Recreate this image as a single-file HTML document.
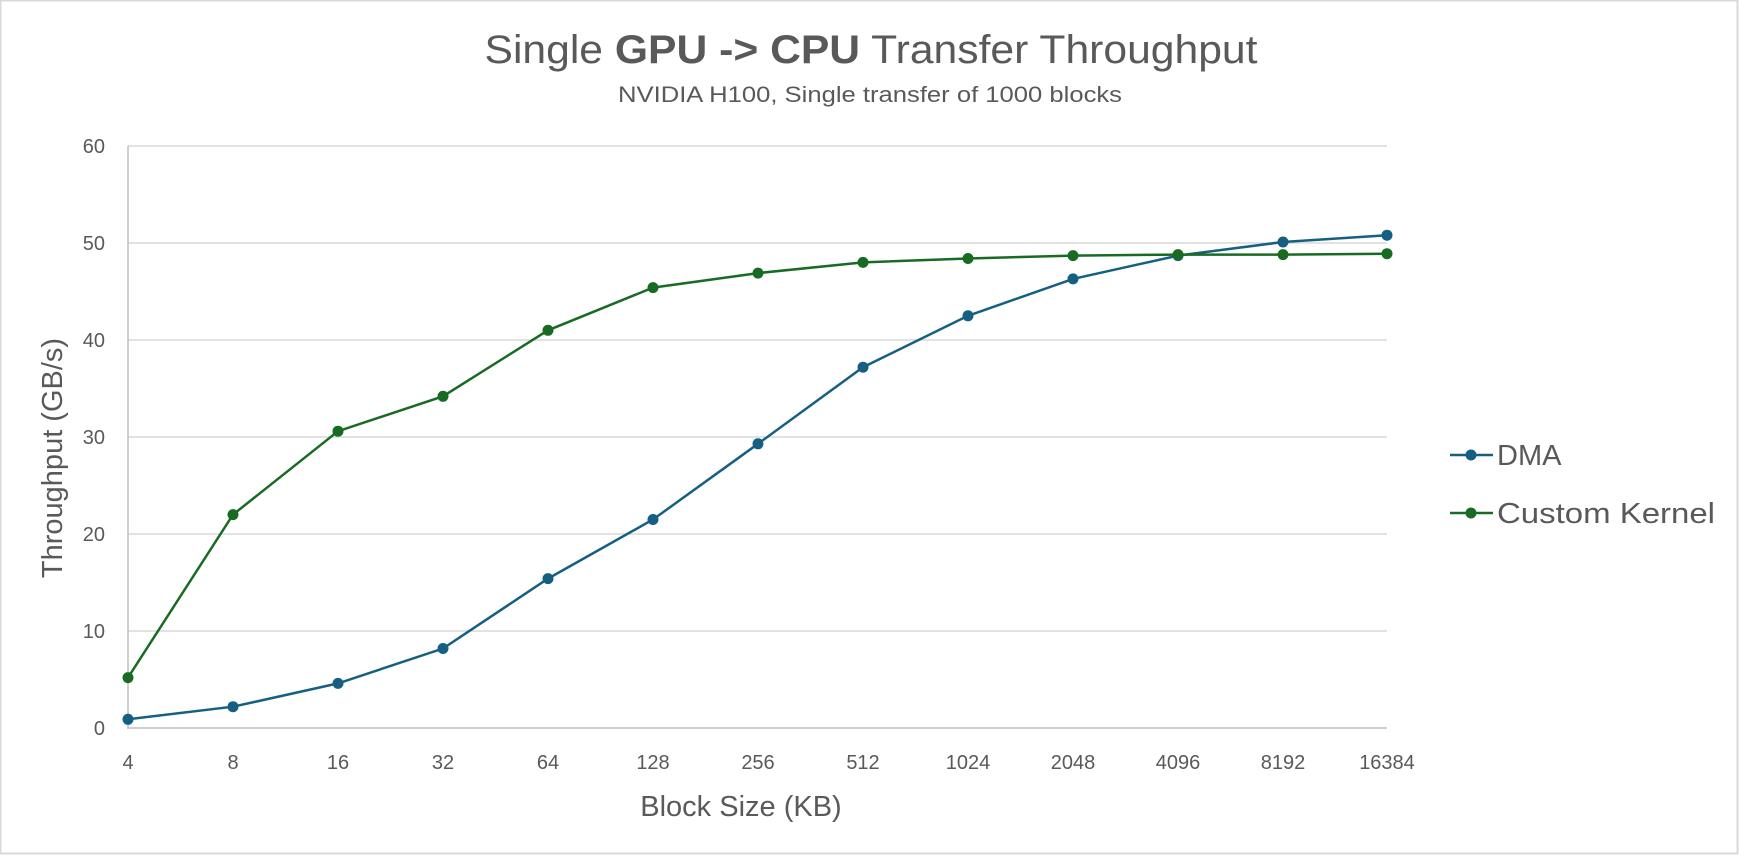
<!DOCTYPE html>
<html><head><meta charset="utf-8"><style>
html,body{margin:0;padding:0;background:#fff;}
svg{display:block;}
text{font-family:"Liberation Sans",sans-serif;fill:#595959;}
</style></head><body>
<svg width="1739" height="855" viewBox="0 0 1739 855" xmlns="http://www.w3.org/2000/svg">
<rect x="0.5" y="0.5" width="1737" height="853" fill="#fff" stroke="#d9d9d9" stroke-width="2"/>
<text x="871" y="63" text-anchor="middle" font-size="40" textLength="773" lengthAdjust="spacingAndGlyphs">Single <tspan font-weight="bold">GPU -&gt; CPU</tspan> Transfer Throughput</text>
<text x="870" y="102" text-anchor="middle" font-size="22" textLength="504" lengthAdjust="spacingAndGlyphs">NVIDIA H100, Single transfer of 1000 blocks</text>
<g stroke="#d9d9d9" stroke-width="1.5">
<line x1="128" y1="146" x2="1387" y2="146"/>
<line x1="128" y1="243" x2="1387" y2="243"/>
<line x1="128" y1="340" x2="1387" y2="340"/>
<line x1="128" y1="437" x2="1387" y2="437"/>
<line x1="128" y1="534" x2="1387" y2="534"/>
<line x1="128" y1="631" x2="1387" y2="631"/>
</g>
<line x1="128" y1="146" x2="128" y2="729" stroke="#bfbfbf" stroke-width="1.5"/>
<line x1="128" y1="728" x2="1387" y2="728" stroke="#bfbfbf" stroke-width="1.5"/>
<g font-size="20" text-anchor="end">
<text x="105" y="735">0</text><text x="105" y="638">10</text><text x="105" y="541">20</text>
<text x="105" y="444">30</text><text x="105" y="347">40</text><text x="105" y="250">50</text><text x="105" y="153">60</text>
</g>
<g font-size="20" text-anchor="middle">
<text x="128" y="769">4</text><text x="233" y="769">8</text><text x="338" y="769">16</text>
<text x="443" y="769">32</text><text x="548" y="769">64</text><text x="653" y="769">128</text>
<text x="758" y="769">256</text><text x="863" y="769">512</text><text x="968" y="769">1024</text>
<text x="1073" y="769">2048</text><text x="1178" y="769">4096</text><text x="1283" y="769">8192</text>
<text x="1387" y="769">16384</text>
</g>
<text x="741" y="816" text-anchor="middle" font-size="29">Block Size (KB)</text>
<text transform="translate(62,458) rotate(-90)" text-anchor="middle" font-size="29">Throughput (GB/s)</text>
<polyline fill="none" stroke="#156082" stroke-width="2.5" points="128,719.3 233,706.7 338,683.4 443,648.5 548,578.6 653,519.5 758,443.8 863,367.2 968,315.8 1073,278.9 1178,255.6 1283,242 1387,235.2"/>
<g fill="#156082">
<circle cx="128" cy="719.3" r="5.5"/><circle cx="233" cy="706.7" r="5.5"/><circle cx="338" cy="683.4" r="5.5"/><circle cx="443" cy="648.5" r="5.5"/><circle cx="548" cy="578.6" r="5.5"/><circle cx="653" cy="519.5" r="5.5"/><circle cx="758" cy="443.8" r="5.5"/><circle cx="863" cy="367.2" r="5.5"/><circle cx="968" cy="315.8" r="5.5"/><circle cx="1073" cy="278.9" r="5.5"/><circle cx="1178" cy="255.6" r="5.5"/><circle cx="1283" cy="242" r="5.5"/><circle cx="1387" cy="235.2" r="5.5"/>
</g>
<polyline fill="none" stroke="#196b24" stroke-width="2.5" points="128,677.6 233,514.6 338,431.2 443,396.3 548,330.3 653,287.6 758,273.1 863,262.4 968,258.5 1073,255.6 1178,254.6 1283,254.6 1387,253.7"/>
<g fill="#196b24">
<circle cx="128" cy="677.6" r="5.5"/><circle cx="233" cy="514.6" r="5.5"/><circle cx="338" cy="431.2" r="5.5"/><circle cx="443" cy="396.3" r="5.5"/><circle cx="548" cy="330.3" r="5.5"/><circle cx="653" cy="287.6" r="5.5"/><circle cx="758" cy="273.1" r="5.5"/><circle cx="863" cy="262.4" r="5.5"/><circle cx="968" cy="258.5" r="5.5"/><circle cx="1073" cy="255.6" r="5.5"/><circle cx="1178" cy="254.6" r="5.5"/><circle cx="1283" cy="254.6" r="5.5"/><circle cx="1387" cy="253.7" r="5.5"/>
</g>
<line x1="1450" y1="455" x2="1493" y2="455" stroke="#156082" stroke-width="2.5"/>
<circle cx="1471" cy="455" r="5.5" fill="#156082"/>
<text x="1497" y="465" font-size="29">DMA</text>
<line x1="1450" y1="513" x2="1493" y2="513" stroke="#196b24" stroke-width="2.5"/>
<circle cx="1471" cy="513" r="5.5" fill="#196b24"/>
<text x="1497" y="523" font-size="29" textLength="218" lengthAdjust="spacingAndGlyphs">Custom Kernel</text>
</svg>
</body></html>
